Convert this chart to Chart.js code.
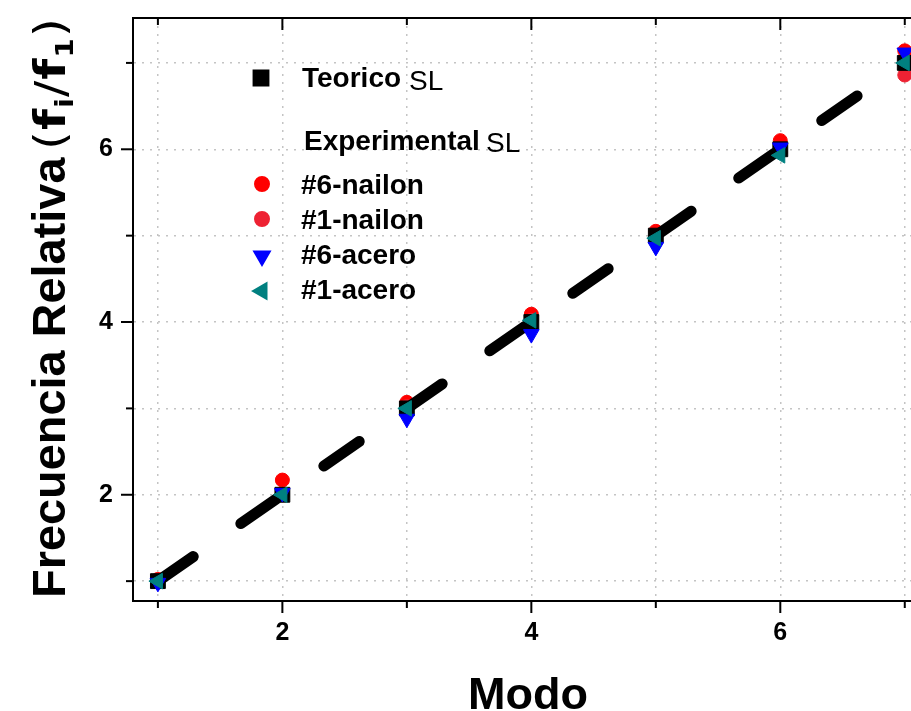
<!DOCTYPE html>
<html>
<head>
<meta charset="utf-8">
<script src="https://cdn.jsdelivr.net/npm/chart.js@4.4.0/dist/chart.umd.min.js"></script>
<style>
  body { margin: 0; background: #fff; }
  #wrap { width: 911px; height: 711px; }
</style>
</head>
<body>
<div id="wrap"><canvas id="chart" width="911" height="711"></canvas></div>
<script>
// modes (x) and relative frequencies
let modos = [1, 2, 3, 4, 5, 6, 7];
let teorico = [1, 2, 3, 4, 5, 6, 7];
let nailon6 = [1.02, 2.17, 3.07, 4.09, 5.05, 6.1, 7.14];
let nailon1 = [1.0, 2.0, 3.02, 4.02, 5.0, 5.97, 6.86];
let acero6 = [0.98, 2.02, 2.88, 3.86, 4.87, 6.02, 7.12];
let acero1 = [1.0, 2.0, 3.0, 4.02, 4.97, 5.93, 7.0];
let tickValues = [1, 2, 3, 4, 5, 6, 7];

function pts(ys) {
  return modos.map((m, i) => ({ x: m, y: ys[i] }));
}

const FONT = "'Liberation Sans', Arial, sans-serif";

// frame top line, tick marks, titles and the in-plot legend
const decor = {
  id: "decor",
  afterDraw(chart) {
    const ctx = chart.ctx;
    const a = chart.chartArea;
    const xs = chart.scales.x;
    const ys = chart.scales.y;

    ctx.save();
    ctx.strokeStyle = "#000";
    ctx.lineWidth = 2;
    ctx.beginPath();
    ctx.moveTo(a.left - 1, a.top);
    ctx.lineTo(a.right + 2, a.top);
    ctx.stroke();

    tickValues.forEach((v) => {
      let len = v % 2 === 0 ? 12 : 7;
      let px = xs.getPixelForValue(v);
      ctx.beginPath();
      ctx.moveTo(px, a.bottom);
      ctx.lineTo(px, a.bottom + len);
      ctx.moveTo(px, a.top);
      ctx.lineTo(px, a.top + len);
      ctx.stroke();
      let py = ys.getPixelForValue(v);
      ctx.beginPath();
      ctx.moveTo(a.left, py);
      ctx.lineTo(a.left - len, py);
      ctx.stroke();
    });

    // x title
    ctx.fillStyle = "#000";
    ctx.font = "bold 45px " + FONT;
    ctx.textAlign = "center";
    ctx.textBaseline = "alphabetic";
    ctx.fillText("Modo", 528, 709);

    // y title with subscripts, fitted to the span seen in the picture
    ctx.save();
    ctx.translate(65, 598);
    ctx.rotate(-Math.PI / 2);
    ctx.textAlign = "left";
    let t = "Frecuencia Relativa";
    ctx.font = "bold 50px " + FONT;
    let size = Math.min(50, (50 * 441) / ctx.measureText(t).width);
    ctx.font = "bold " + size.toFixed(1) + "px " + FONT;
    ctx.fillText(t, 0, 0);
    let x = 448;
    const parts = [
      ["(", "42px 'DejaVu Sans'", 0],
      ["f", "bold 42px 'DejaVu Sans'", 0],
      ["i", "bold 24px 'DejaVu Sans'", 8],
      ["/", "42px 'DejaVu Sans'", 0],
      ["f", "bold 42px 'DejaVu Sans'", 0],
      ["1", "bold 24px 'DejaVu Sans'", 8],
      [")", "42px 'DejaVu Sans'", 0],
    ];
    let total = 0;
    parts.forEach((p) => {
      ctx.font = p[1];
      total += ctx.measureText(p[0]).width + 1;
    });
    let k = 133 / total;
    ctx.translate(x, 0);
    ctx.scale(k, 1);
    let cx = 0;
    parts.forEach((p) => {
      ctx.font = p[1];
      ctx.fillText(p[0], cx, p[2]);
      cx += ctx.measureText(p[0]).width + 1;
    });
    ctx.restore();

    // legend
    const ds = chart.data.datasets;
    function marker(d, mx, my) {
      ctx.fillStyle = d.backgroundColor;
      ctx.strokeStyle = d.borderColor;
      Chart.helpers.drawPoint(
        ctx,
        {
          pointStyle: d.pointStyle,
          radius: d.pointRadius,
          rotation: d.rotation || 0,
          borderWidth: 1,
        },
        mx,
        my
      );
    }
    function label(text, lx, ly) {
      ctx.fillStyle = "#000";
      ctx.textAlign = "left";
      ctx.font = "bold 28px " + FONT;
      ctx.fillText(text, lx, ly);
    }
    function sl(lx, ly) {
      ctx.fillStyle = "#000";
      ctx.font = "28px " + FONT;
      ctx.fillText("SL", lx, ly);
    }
    marker(ds[3], 261, 78);
    label("Teorico", 302, 87);
    sl(409, 90);
    label("Experimental", 304, 150);
    sl(486, 152);

    const rows = [
      [5, "#6-nailon", 184, 194],
      [4, "#1-nailon", 219, 229],
      [1, "#6-acero", 256, 264],
      [0, "#1-acero", 291, 299],
    ];
    rows.forEach((r) => {
      marker(ds[r[0]], 262, r[2]);
      label(r[1], 301, r[3]);
    });
    ctx.restore();
  },
};

function noPad(scale) {
  scale.paddingTop = 0;
  scale.paddingBottom = 0;
  scale.paddingLeft = 0;
  scale.paddingRight = 0;
}

const config = {
  type: "scatter",
  data: {
    datasets: [
      {
        label: "#1-acero",
        data: pts(acero1),
        pointStyle: "triangle",
        rotation: 270,
        pointRadius: 9,
        backgroundColor: "#008080",
        borderColor: "#008080",
        order: 0,
      },
      {
        label: "#6-acero",
        data: pts(acero6),
        pointStyle: "triangle",
        rotation: 180,
        pointRadius: 9,
        backgroundColor: "#0000ff",
        borderColor: "#0000ff",
        order: 1,
      },
      {
        label: "Teorico linea",
        data: pts(teorico),
        showLine: true,
        pointRadius: 0,
        borderColor: "#000",
        borderWidth: 11,
        borderDash: [43, 58],
        borderCapStyle: "round",
        order: 2,
      },
      {
        label: "Teorico SL",
        data: pts(teorico),
        pointStyle: "rect",
        pointRadius: 10.5,
        backgroundColor: "#000",
        borderColor: "#000",
        order: 3,
      },
      {
        label: "#1-nailon",
        data: pts(nailon1),
        pointStyle: "circle",
        pointRadius: 7,
        backgroundColor: "#ee2233",
        borderColor: "#ee2233",
        order: 4,
      },
      {
        label: "#6-nailon",
        data: pts(nailon6),
        pointStyle: "circle",
        pointRadius: 7,
        backgroundColor: "#ff0000",
        borderColor: "#ff0000",
        order: 5,
      },
    ],
  },
  options: {
    responsive: false,
    animation: false,
    devicePixelRatio: 1,
    layout: { autoPadding: false, padding: { top: 18, right: 0, left: 0, bottom: 0 } },
    plugins: {
      legend: { display: false },
      tooltip: { enabled: false },
    },
    scales: {
      x: {
        type: "linear",
        min: 0.8,
        max: 7.05,
        afterBuildTicks: (scale) => {
          scale.ticks = tickValues.map((v) => ({ value: v }));
        },
        afterFit: (scale) => {
          scale.height = 110;
          noPad(scale);
        },
        ticks: {
          callback: (v) => (v % 2 === 0 ? v : ""),
          font: { family: FONT, size: 25, weight: "bold" },
          color: "#000",
          padding: 17,
          maxRotation: 0,
          autoSkip: false,
        },
        grid: {
          color: "#c4c4c4",
          lineWidth: 1.5,
          drawTicks: false,
        },
        border: { color: "#000", width: 2, dash: [2, 6] },
      },
      y: {
        type: "linear",
        min: 0.77,
        max: 7.52,
        afterBuildTicks: (scale) => {
          scale.ticks = tickValues.map((v) => ({ value: v }));
        },
        afterFit: (scale) => {
          scale.width = 133;
          noPad(scale);
        },
        ticks: {
          callback: (v) => (v % 2 === 0 ? v : ""),
          font: { family: FONT, size: 25, weight: "bold" },
          color: "#000",
          padding: 20,
          autoSkip: false,
        },
        grid: {
          color: "#c4c4c4",
          lineWidth: 1.5,
          drawTicks: false,
        },
        border: { color: "#000", width: 2, dash: [2, 6] },
      },
    },
  },
  plugins: [decor],
};

new Chart(document.querySelector("#chart"), config);
</script>
</body>
</html>
